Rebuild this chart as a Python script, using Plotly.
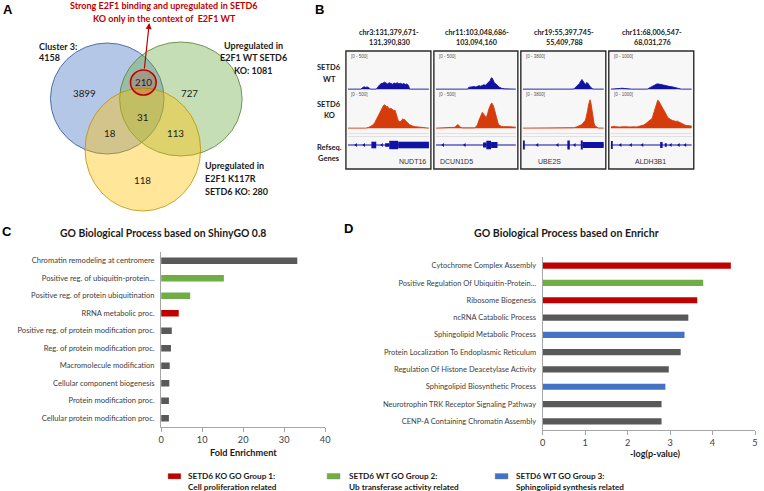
import plotly.graph_objects as go

W, H = 764, 491
FONT = "Lato, Open Sans, sans-serif"
ARIAL = "Liberation Sans, Arial, sans-serif"

# ---------------- DATA ----------------
# Panel A: Venn diagram region counts
venn_regions = ["Cluster 3 only", "Cluster 3 & WT", "WT only", "All three",
                "Cluster 3 & K117R", "WT & K117R", "K117R only"]
venn_counts = [3899, 210, 727, 31, 18, 113, 118]
venn_totals = [4158, 1081, 280]

# Panel B: IGV-like coverage tracks
loci = ["chr3:131,379,671-|131,390,830", "chr11:103,048,686-|103,094,160",
        "chr19:55,397,745-|55,409,788", "chr11:68,006,547-|68,031,276"]
genes = ["NUDT16", "DCUN1D5", "UBE2S", "ALDH3B1"]
track_max = [500, 500, 3800, 1000]

wt_x = [
    [0, 16, 18, 20, 22, 24, 26, 28, 35, 37, 39, 41, 43, 45, 47, 49, 51, 53, 55, 57, 59, 61, 63, 65, 67, 69, 71, 73, 75, 76, 100],
    [0, 40, 41, 44, 48, 50, 52, 54, 56, 58, 60, 62, 64, 66, 67, 68, 69, 70, 71, 72, 73, 75, 77, 79, 82, 86, 100],
    [0, 62, 64, 66, 68, 70, 71, 72, 73, 74, 75, 76, 77, 78, 79, 80, 81, 82, 84, 86, 88, 100],
    [0, 8, 10, 12, 14, 17, 20, 23, 26, 45, 47, 49, 51, 53, 55, 57, 59, 61, 63, 65, 67, 69, 71, 73, 75, 77, 79, 81, 84, 87, 100],
]
wt_y = [
    [0, 0, 25, 40, 30, 38, 20, 0, 0, 45, 70, 95, 100, 120, 105, 90, 110, 100, 85, 105, 95, 110, 90, 100, 85, 95, 80, 90, 60, 0, 0],
    [0, 0, 30, 40, 45, 35, 55, 60, 50, 70, 75, 65, 90, 110, 125, 150, 185, 195, 175, 130, 110, 90, 60, 35, 15, 5, 0],
    [0, 0, 120, 300, 500, 750, 950, 1150, 1250, 1100, 900, 700, 600, 750, 850, 800, 600, 400, 200, 60, 0, 0],
    [0, 0, 15, 25, 30, 20, 25, 15, 0, 0, 30, 60, 100, 140, 165, 180, 175, 160, 150, 130, 120, 115, 100, 90, 85, 70, 55, 40, 20, 0, 0],
]
ko_x = [
    [0, 22, 26, 30, 33, 35, 37, 39, 41, 43, 44, 45, 46, 47, 48, 49, 50, 51, 53, 55, 57, 58, 59, 60, 61, 62, 64, 66, 67, 68, 69, 70, 71, 72, 74, 76, 78, 80, 83, 86, 90, 95, 100],
    [0, 22, 24, 26, 27, 28, 29, 31, 33, 48, 50, 52, 54, 56, 57, 58, 59, 60, 61, 62, 63, 64, 65, 66, 67, 68, 69, 70, 71, 72, 73, 74, 75, 76, 77, 78, 80, 82, 85, 88, 92, 96, 100],
    [0, 60, 63, 66, 69, 72, 74, 76, 77, 78, 79, 80, 81, 82, 83, 84, 85, 86, 87, 88, 89, 91, 93, 100],
    [0, 2, 4, 6, 8, 11, 14, 17, 20, 23, 26, 29, 32, 35, 38, 41, 43, 45, 47, 49, 51, 52, 53, 54, 55, 56, 57, 58, 59, 60, 61, 62, 63, 64, 65, 66, 67, 68, 69, 70, 72, 74, 76, 78, 80, 82, 84, 86, 88, 90, 92, 94, 96, 98, 100],
]
ko_y = [
    [0, 0, 15, 45, 90, 150, 200, 260, 320, 360, 390, 400, 395, 380, 360, 375, 350, 330, 340, 320, 300, 310, 280, 230, 180, 130, 110, 120, 150, 160, 140, 150, 130, 120, 90, 60, 45, 35, 25, 20, 10, 5, 0],
    [0, 5, 15, 45, 60, 55, 40, 15, 5, 5, 20, 60, 140, 210, 250, 270, 255, 240, 230, 200, 180, 210, 260, 320, 360, 390, 420, 430, 410, 380, 330, 280, 220, 160, 110, 70, 45, 30, 25, 30, 25, 20, 15],
    [0, 0, 60, 150, 260, 420, 600, 800, 1000, 1300, 1700, 2300, 3000, 3650, 3700, 3300, 2500, 1600, 1000, 600, 300, 100, 20, 0],
    [40, 55, 60, 50, 40, 35, 45, 55, 45, 40, 50, 45, 40, 55, 70, 110, 150, 190, 220, 260, 330, 420, 520, 620, 720, 820, 900, 960, 940, 880, 830, 790, 750, 700, 640, 600, 540, 480, 430, 380, 330, 290, 260, 250, 230, 240, 210, 180, 160, 130, 100, 90, 85, 80, 70],
]
# exons: start, end, thickness
exon_start = [[29, 46, 51, 62], [59, 63, 69], [0, 55, 72, 74], [0, 61, 67]]
exon_end = [[35, 51, 62, 100], [63, 69, 77], [2, 58, 74, 100], [2, 64, 68]]
exon_thick = [[1.1, 0.6, 1.4, 1.1], [0.8, 1.4, 1.0], [1.5, 1.5, 1.5, 1.0], [1.3, 1.0, 0.6]]
intron_marks = [[10, 20, 42], [9, 36], [18, 43, 64], [12, 25, 39, 74, 84, 92]]

# Panel C: ShinyGO
c_terms = ["Chromatin remodeling at centromere", "Positive reg. of ubiquitin-protein...",
           "Positive reg. of protein ubiquitination", "RRNA metabolic proc.",
           "Positive reg. of protein modification proc.", "Reg. of protein modification proc.",
           "Macromolecule modification", "Cellular component biogenesis",
           "Protein modification proc.", "Cellular protein modification proc."]
c_values = [33.2, 15.3, 7.1, 4.3, 2.6, 2.4, 2.1, 2.0, 1.9, 1.9]
c_groups = [0, 2, 2, 1, 0, 0, 0, 0, 0, 0]

# Panel D: Enrichr
d_terms = ["Cytochrome Complex Assembly", "Positive Regulation Of Ubiquitin-Protein...",
           "Ribosome Biogenesis", "ncRNA Catabolic Process", "Sphingolipid Metabolic Process",
           "Protein Localization To Endoplasmic Reticulum", "Regulation Of Histone Deacetylase Activity",
           "Sphingolipid Biosynthetic Process", "Neurotrophin TRK Receptor Signaling Pathway",
           "CENP-A Containing Chromatin Assembly"]
d_values = [4.43, 3.78, 3.64, 3.43, 3.34, 3.25, 2.97, 2.89, 2.80, 2.80]
d_groups = [1, 2, 1, 0, 3, 0, 0, 3, 0, 0]

group_colors = ["#595959", "#c00000", "#70ad47", "#4472c4"]
legend_l1 = ["SETD6 KO GO Group 1:", "SETD6 WT GO Group 2:", "SETD6 WT GO Group 3:"]
legend_l2 = ["Cell proliferation related", "Ub transferase activity related", "Sphingolipid synthesis related"]

# ---------------- FIGURE ----------------
fig = go.Figure()
layout = dict(width=W, height=H, margin=dict(l=0, r=0, t=0, b=0), autosize=False,
              paper_bgcolor="white", plot_bgcolor="rgba(0,0,0,0)", showlegend=False,
              font=dict(family=FONT, color="#262626"), barmode="overlay")
shapes, annotations = [], []
n_axes = [0]


def X(x):
    return x / W


def Y(y):
    return 1 - y / H


def add_axes(x0, x1, ytop, ybot, xcfg, ycfg):
    n_axes[0] += 1
    s = "" if n_axes[0] == 1 else str(n_axes[0])
    layout["xaxis" + s] = dict(domain=[X(x0), X(x1)], anchor="y" + s, **xcfg)
    layout["yaxis" + s] = dict(domain=[Y(ybot), Y(ytop)], anchor="x" + s, **ycfg)
    return "x" + s, "y" + s


def text(x, y, s, size, color="#262626", bold=False, xanchor="center", family=FONT):
    annotations.append(dict(x=X(x), y=Y(y), xref="paper", yref="paper",
                            text=f"<b>{s}</b>" if bold else s, showarrow=False,
                            font=dict(size=size, color=color, family=family),
                            xanchor=xanchor, yanchor="middle"))


def rect(x0, y0, x1, y1, fill, line="rgba(0,0,0,0)", lw=0, layer="below", kind="rect"):
    shapes.append(dict(type=kind, xref="paper", yref="paper", x0=X(x0), x1=X(x1),
                       y0=Y(y1), y1=Y(y0), fillcolor=fill, line=dict(color=line, width=lw), layer=layer))


hidden = dict(visible=False, fixedrange=True)

# ---- Panel letters
text(5, 10, "A", 13, "#000", True, family=ARIAL)
text(320, 10, "B", 13, "#000", True, family=ARIAL)
text(4, 231, "C", 13, "#000", True, family=ARIAL)
text(350, 228, "D", 13, "#000", True, family=ARIAL)

# ---- Panel A: Venn
rect(48, 43, 163, 154, "rgba(68,114,196,0.40)", "#2f5597", 0.8, "above", "circle")
rect(118, 42, 242, 156, "rgba(112,173,71,0.40)", "#548235", 0.8, "above", "circle")
rect(83, 88, 200, 211, "rgba(255,192,0,0.40)", "#bf9000", 0.8, "above", "circle")
rect(129, 70, 155, 95, "rgba(192,0,0,0.18)", "#c00000", 1.6, "above", "circle")
venn_pos = [(82, 93), (142, 82), (189, 93), (141, 117), (108, 133), (175, 133), (141, 180)]
for (vx, vy), cnt in zip(venn_pos, venn_counts):
    text(vx, vy, f"{cnt}", 9.8, "#1a1a1a")
text(34, 47, "Cluster 3:", 9, "#1a1a1a", True, "left")
text(34, 58, f"{venn_totals[0]}", 9, "#1a1a1a", True, "left")
text(253, 45, "Upregulated in", 9, "#1a1a1a", True)
text(253, 58, "E2F1 WT SETD6", 9, "#1a1a1a", True)
text(253, 71, f"KO: {venn_totals[1]}", 9, "#1a1a1a", True)
text(202, 165, "Upregulated in", 9, "#1a1a1a", True, "left")
text(202, 178, "E2F1 K117R", 9, "#1a1a1a", True, "left")
text(202, 191, f"SETD6 KO: {venn_totals[2]}", 9, "#1a1a1a", True, "left")
text(163, 6, "Strong E2F1 binding and upregulated in SETD6", 9, "#c00000", True)
text(163, 18, "KO only in the context of  E2F1 WT", 9, "#c00000", True)
annotations.append(dict(x=X(148), y=Y(23), xref="paper", yref="paper", text="", showarrow=True,
                        ax=-5, ay=47, arrowcolor="#c00000", arrowwidth=1.2, arrowhead=2,
                        arrowsize=1, standoff=0))

# ---- Panel B: tracks
box_l = [347, 436, 524, 613]
box_r = [433, 521, 610, 699]
gene_cx = [414, 459, 553, 655]
BLUE, RED = "#1111a3", "#d63c0b"
text(330, 68, "SETD6", 7.5, "#1a1a1a", True)
text(330, 79, "WT", 7.5, "#1a1a1a", True)
text(330, 104, "SETD6", 7.5, "#1a1a1a", True)
text(330, 115, "KO", 7.5, "#1a1a1a", True)
text(330, 147, "Refseq.", 7.5, "#1a1a1a", True)
text(330, 158, "Genes", 7.5, "#1a1a1a", True)
for i in range(4):
    L, R = box_l[i], box_r[i]
    cx = (L + R) / 2
    l1, l2 = loci[i].split("|")
    text(cx + 1, 33, l1, 7.2, "#1a1a1a", True)
    text(cx + 1, 43, l2, 7.2, "#1a1a1a", True)
    rect(L, 51, R, 169, "#f7f7f7", "#2b2b2b", 1.4, "below")
    rect(L + 2, 133, R - 2, 133.6, "#c9c9c9")
    rect(L + 2, 136, R - 2, 136.6, "#c9c9c9")
    m = track_max[i]
    xa, ya = add_axes(L + 2, R - 2, 60, 90, dict(range=[0, 100], **hidden), dict(range=[-m * 0.03, m], **hidden))
    fig.add_trace(go.Scatter(x=wt_x[i], y=wt_y[i], xaxis=xa, yaxis=ya, mode="lines", fill="tozeroy",
                             line=dict(color=BLUE, width=0.9), fillcolor=BLUE, hoverinfo="skip"))
    xa, ya = add_axes(L + 2, R - 2, 99, 129, dict(range=[0, 100], **hidden), dict(range=[-m * 0.03, m], **hidden))
    fig.add_trace(go.Scatter(x=ko_x[i], y=ko_y[i], xaxis=xa, yaxis=ya, mode="lines", fill="tozeroy",
                             line=dict(color=RED, width=0.9), fillcolor=RED, hoverinfo="skip"))
    xa, ya = add_axes(L + 2, R - 2, 139, 151, dict(range=[0, 100], **hidden), dict(range=[-1, 1], **hidden))
    fig.add_trace(go.Scatter(x=[0, 100], y=[0, 0], xaxis=xa, yaxis=ya, mode="lines",
                             line=dict(color=BLUE, width=1.2), hoverinfo="skip"))
    fig.add_trace(go.Scatter(x=intron_marks[i], y=[0] * len(intron_marks[i]), xaxis=xa, yaxis=ya, mode="markers",
                             marker=dict(symbol="triangle-left", size=3.5, color=BLUE), hoverinfo="skip"))
    fig.add_trace(go.Bar(y=[0] * len(exon_start[i]), base=exon_start[i],
                         x=[e - s for s, e in zip(exon_start[i], exon_end[i])],
                         width=exon_thick[i], orientation="h", xaxis=xa, yaxis=ya,
                         marker=dict(color=BLUE, line=dict(width=0)), hoverinfo="skip"))
    text(gene_cx[i], 161, genes[i], 7, "#333333", False, family=ARIAL)
    text(L + 3, 57, f"[0 - {m}]", 4.5, "#555555", False, "left", ARIAL)
    text(L + 3, 95, f"[0 - {m}]", 4.5, "#555555", False, "left", ARIAL)

# ---- Panel C
bar_axis_y = dict(type="category", categoryarray=None, autorange="reversed", showline=True,
                  linecolor="#a6a6a6", linewidth=1, showgrid=False, ticks="", fixedrange=True,
                  tickfont=dict(size=7.6, color="#404040", family=FONT), ticklabelstandoff=4)
bar_axis_x = dict(showline=True, linecolor="#a6a6a6", linewidth=1, ticks="outside", ticklen=4,
                  tickcolor="#a6a6a6", showgrid=False, zeroline=False, fixedrange=True,
                  tickfont=dict(size=9.2, color="#404040", family=FONT))
ycfg = dict(bar_axis_y)
ycfg["categoryarray"] = c_terms
ycfg["categoryorder"] = "array"
xa, ya = add_axes(160, 326, 252, 427, dict(range=[0, 40], dtick=10, **bar_axis_x), ycfg)
fig.add_trace(go.Bar(y=c_terms, x=c_values, orientation="h", xaxis=xa, yaxis=ya, width=0.38,
                     marker=dict(color=[group_colors[g] for g in c_groups], line=dict(width=0))))
text(162, 233, "GO Biological Process based on ShinyGO 0.8", 10.4, "#1a1a1a", True)
text(243, 452, "Fold Enrichment", 9.2, "#1a1a1a", True)

# ---- Panel D
ycfg = dict(bar_axis_y)
ycfg["categoryarray"] = d_terms
ycfg["categoryorder"] = "array"
ycfg["tickfont"] = dict(size=7.5, color="#404040", family=FONT)
xa, ya = add_axes(546, 761, 257, 430, dict(range=[0, 5], dtick=1, **bar_axis_x), ycfg)
fig.add_trace(go.Bar(y=d_terms, x=d_values, orientation="h", xaxis=xa, yaxis=ya, width=0.36,
                     marker=dict(color=[group_colors[g] for g in d_groups], line=dict(width=0))))
text(570, 233, "GO Biological Process based on Enrichr", 10.6, "#1a1a1a", True)
text(660, 453, "-log(p-value)", 9, "#1a1a1a", True)

# ---- Shared legend
sw_x = [167, 328, 498]
tx_x = [185, 348, 517]
for k in range(3):
    rect(sw_x[k], 473.5, sw_x[k] + 13, 479, group_colors[k + 1], "#7f7f7f", 0.4, "above")
    text(tx_x[k], 476, legend_l1[k], 8.2, "#1a1a1a", True, "left")
    text(tx_x[k], 487, legend_l2[k], 8.2, "#1a1a1a", True, "left")

layout["shapes"] = shapes
layout["annotations"] = annotations
fig.update_layout(**layout)
fig.write_html("out.html")
